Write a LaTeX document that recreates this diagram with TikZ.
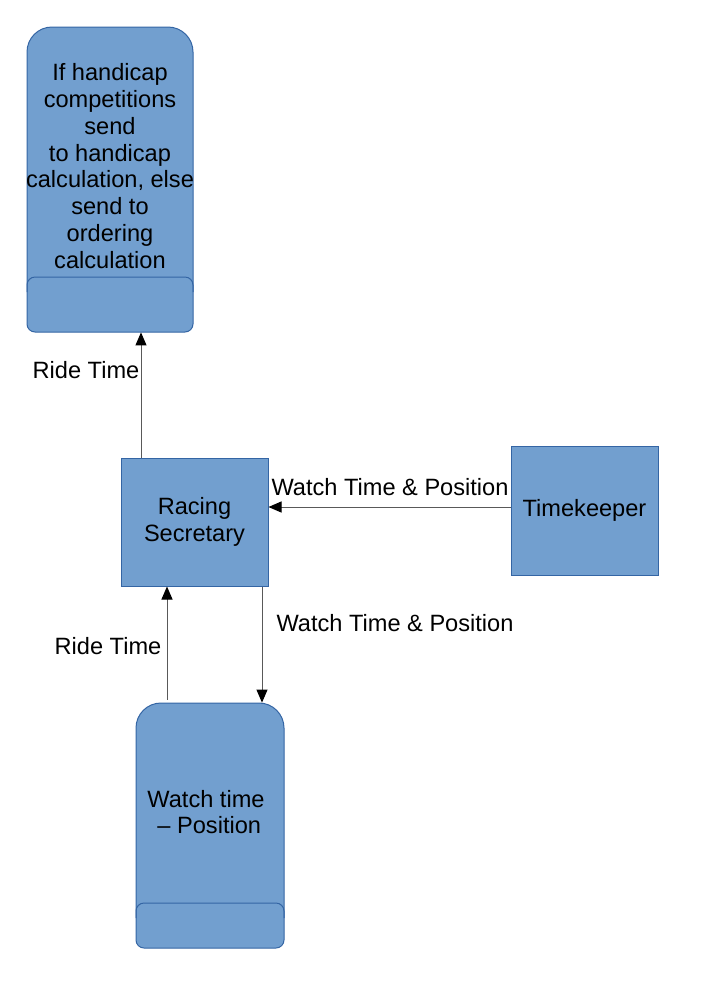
\documentclass[tikz,border=0pt]{standalone}
\usepackage{fontspec}
\setmainfont{Liberation Sans}
\usetikzlibrary{arrows.meta}
\definecolor{boxfill}{HTML}{729FCF}
\definecolor{boxline}{HTML}{3465A4}
\tikzset{
  box/.style={draw=boxline,fill=boxfill,line width=0.5pt,minimum width=73.5pt,minimum height=64pt,align=center,inner sep=0pt},
  storetext/.style={align=center,inner sep=0pt},
  storeline/.style={draw=boxline,fill=boxfill,line width=0.5pt},
  flow/.style={draw=black!65,line width=0.5pt,-{Triangle[length=6.5pt,width=5.5pt,color=black]}},
  lbl/.style={inner sep=0pt}
}
\begin{document}
\begin{tikzpicture}[x=0.5pt,y=-0.5pt,font=\fontsize{11.8}{13.4}\selectfont]
\useasboundingbox (0,0) rectangle (705,981);
\filldraw[storeline] (27,200) [rounded corners=12.5pt] -- (27,27) -- (193,27) -- (193,200) [rounded corners=4pt] -- (193,332) -- (27,332) -- cycle;
\draw[boxline,line width=0.5pt] (27,292) [rounded corners=4pt] -- (27,277) -- (193,277) -- (193,292);
\node[storetext,minimum width=83pt,minimum height=152.5pt] (handicap) at (110,179.5) {};
\node[storetext] (handicaptext) at (110,166) {If handicap\\competitions\\send\\to handicap\\calculation, else\\send to\\ordering\\calculation};
\filldraw[storeline] (136,800) [rounded corners=12.5pt] -- (136,703) -- (284,703) -- (284,800) [rounded corners=4pt] -- (284,948) -- (136,948) -- cycle;
\draw[boxline,line width=0.5pt] (136,918) [rounded corners=4pt] -- (136,903) -- (284,903) -- (284,918);
\node[storetext,minimum width=74pt,minimum height=122.5pt] (watch) at (210,825.5) {};
\node[storetext] (watchtext) at (206,812) {Watch time\\\ – Position};
\node[box] (secretary) at (194.5,522) {Racing\\Secretary};
\node[box,minimum height=64.5pt] (timekeeper) at (584.5,510.5) {Timekeeper};
\draw[flow] ([xshift=-26.75pt]secretary.north) -- ([xshift=-26.75pt]secretary.north |- handicap.south);
\draw[flow] ([yshift=1.75pt]timekeeper.west) -- ([yshift=1.75pt]timekeeper.west -| secretary.east);
\draw[flow] ([xshift=33.75pt]secretary.south) -- ([xshift=33.75pt]secretary.south |- watch.north);
\draw[flow] ([xshift=-21.5pt,yshift=1.5pt]watch.north) -- ([xshift=-21.5pt]watch.north |- secretary.south);
\node[lbl] (ridetop) at (86,370) {Ride Time};
\node[lbl] (watchtop) at (390,487) {Watch Time \& Position};
\node[lbl] (watchdown) at (395,623) {Watch Time \& Position};
\node[lbl] (ridedown) at (108,646) {Ride Time};
\end{tikzpicture}
\end{document}
